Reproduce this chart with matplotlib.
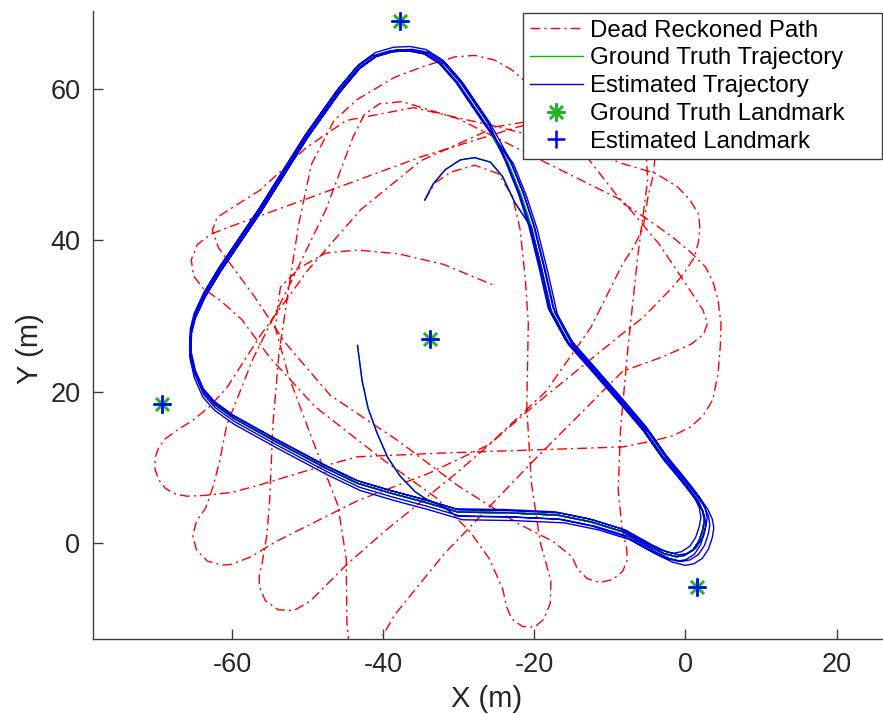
import numpy as np
import matplotlib.pyplot as plt

plt.rcParams['font.family'] = ['Liberation Sans', 'DejaVu Sans']
plt.rcParams['axes.unicode_minus'] = False

# ground truth loop, one lap clockwise, starting on the right side (m)
gt_x = [-23.5, -21.8, -20.4, -19.0, -17.8, -15.5, -12.5, -8.3, -5.5, -3.0,
        -1.0, 0.6, 1.7, 2.3, 2.5, 2.3, 1.8, 1.0, -0.1, -1.2,
        -2.8, -4.7, -8.3, -12.5, -16.9, -23.5, -30.1, -34.5, -39.0, -43.4,
        -47.6, -54.2, -59.8, -62.3, -63.8, -64.9, -65.5, -65.4, -64.9, -63.6,
        -61.6, -56.3, -50.2, -46.0, -43.4, -41.2, -38.8, -36.6, -34.5, -32.3,
        -30.1, -26.5]
gt_y = [50.2, 46.0, 41.7, 36.0, 30.7, 26.5, 23.1, 18.3, 15.0, 11.4,
        9.0, 7.0, 5.5, 4.2, 3.0, 1.8, 0.3, -0.9, -1.6, -1.8,
        -1.4, -0.5, 1.5, 2.8, 3.7, 4.0, 4.1, 5.4, 6.6, 7.9,
        9.9, 13.4, 16.5, 18.3, 20.0, 22.5, 25.2, 28.0, 30.0, 32.8,
        36.1, 43.9, 53.6, 59.5, 62.6, 64.2, 64.9, 65.0, 64.6, 63.2,
        60.7, 55.4]
n_laps = 5

# start and end of the run
start_x = [-34.5, -33.4, -31.8, -29.8, -27.9, -25.8, -24.2, -22.6]
start_y = [45.3, 47.4, 49.3, 50.6, 50.9, 50.3, 48.4, 45.0]
end_x = [-32.4, -34.3, -35.8, -37.8, -39.4, -40.8, -42.0, -42.8, -43.2, -43.4]
end_y = [5.0, 5.8, 6.8, 8.9, 11.3, 14.5, 17.8, 21.5, 24.5, 26.1]

# estimated trajectory: drift of each lap from the truth
est_dx = [0.0, 0.4, -0.3, 0.6, 0.2, -0.2]
est_dy = [0.0, -0.3, 0.3, -0.5, 0.4, -0.2]
est_scale = [1.0, 1.01, 0.995, 1.02, 1.005, 1.012]

# dead reckoned path (m)
dr_pts = [
    (-34.5, 45.3), (-33.1, 47.6), (-31.0, 49.0), (-27.9, 49.9), (-24.8, 48.8),
    (-22.9, 45.8), (-21.9, 41.5), (-21.2, 35.0), (-20.8, 29.0),
    (-21.0, 18.0), (-20.4, 8.0), (-19.2, 0.0), (-17.8, -5.0),
    (-17.9, -8.0), (-18.8, -10.1), (-20.0, -11.1), (-21.6, -11.0), (-23.0, -10.0),
    (-23.7, -8.3), (-24.2, -6.0),
    (-26.0, -2.0), (-28.5, 1.5), (-33.0, 6.0), (-40.0, 11.0), (-49.0, 18.0),
    (-55.0, 24.5), (-58.7, 29.5),
    (-61.5, 32.0), (-63.8, 33.6), (-65.1, 35.3), (-65.4, 37.4), (-64.6, 39.4),
    (-62.8, 40.8), (-60.5, 41.7),
    (-50.0, 45.5), (-35.0, 51.0), (-22.0, 55.0),
    (-15.0, 56.5), (-10.5, 56.3), (-7.0, 54.5), (-5.2, 51.5), (-5.0, 48.0),
    (-6.3, 38.0), (-7.6, 26.0), (-8.6, 15.0), (-8.9, 7.0), (-8.4, 2.0),
    (-7.8, -0.6), (-7.7, -2.2), (-8.3, -3.7), (-9.6, -4.8), (-11.3, -5.2),
    (-13.0, -4.7), (-14.3, -3.4), (-15.0, -1.8),
    (-17.5, 0.2), (-22.0, 2.5), (-30.0, 7.5), (-38.0, 13.5), (-47.0, 19.5),
    (-53.0, 26.5), (-57.0, 32.5),
    (-59.8, 36.3), (-61.8, 39.0), (-62.6, 41.3), (-62.0, 43.0), (-59.8, 44.4),
    (-56.3, 46.6), (-50.2, 52.2), (-44.9, 55.8),
    (-36.0, 57.5), (-25.0, 55.0), (-15.0, 52.5), (-8.3, 50.1), (-3.9, 48.8),
    (-1.0, 47.0), (0.6, 45.3), (1.7, 43.5), (1.9, 41.7), (1.7, 39.7),
    (1.2, 37.8), (-0.2, 35.6), (-1.7, 33.8), (-5.6, 29.8), (-8.3, 27.7),
    (-20.0, 18.2), (-30.0, 9.5), (-40.0, 1.4), (-44.9, -2.9), (-47.5, -5.5),
    (-49.6, -7.6), (-51.8, -8.9), (-53.9, -8.8), (-55.6, -7.6), (-56.4, -5.7),
    (-56.4, -4.3), (-56.0, -2.5), (-55.4, 1.0), (-55.0, 6.0),
    (-54.6, 15.6), (-53.8, 25.0), (-52.6, 33.0), (-51.2, 42.0), (-49.5, 50.0),
    (-46.5, 55.8), (-43.4, 58.6),
    (-38.5, 61.5), (-34.5, 63.0), (-30.5, 64.2), (-27.9, 64.4), (-25.3, 63.8),
    (-23.0, 62.5), (-21.0, 60.8),
    (-15.0, 53.5), (-8.3, 44.9), (-4.8, 42.6), (-1.7, 40.4), (0.8, 38.3),
    (2.7, 36.4), (3.7, 34.3), (4.3, 32.1), (4.7, 29.0), (4.6, 25.9),
    (4.3, 22.3), (3.6, 18.9), (2.3, 16.8), (0.6, 15.3), (-1.6, 14.2),
    (-3.9, 13.6), (-8.3, 12.7),
    (-20.0, 12.3), (-32.0, 11.9), (-43.4, 11.4), (-50.0, 9.6), (-56.3, 7.7),
    (-60.0, 6.7), (-63.5, 6.3), (-66.0, 6.2), (-67.5, 6.5), (-68.8, 7.2),
    (-69.7, 8.35), (-70.2, 9.75), (-70.2, 11.25), (-69.7, 12.65), (-68.8, 13.8),
    (-67.3, 14.9), (-65.2, 16.2), (-63.0, 18.0), (-60.7, 20.5), (-56.2, 27.5),
    (-50.0, 36.0), (-43.0, 44.0), (-35.0, 50.5), (-25.0, 55.0), (-15.0, 56.6),
    (-10.5, 56.6), (-7.3, 55.4), (-5.0, 53.5), (-4.0, 51.1), (-4.3, 48.5),
    (-5.0, 45.5), (-5.6, 41.7), (-6.8, 39.2), (-8.3, 36.9),
    (-12.5, 28.5), (-18.5, 20.0), (-26.0, 13.0), (-34.0, 9.2), (-43.4, 5.6),
    (-49.0, 2.8), (-54.2, 0.2), (-57.5, -1.8), (-60.0, -2.8), (-61.3, -2.9),
    (-63.25, -2.38), (-64.7, -0.95), (-65.2, 1.0), (-64.7, 2.95), (-63.5, 4.6),
    (-62.5, 7.5), (-61.6, 11.0), (-60.7, 15.6), (-57.2, 24.4),
    (-51.9, 35.1), (-47.6, 44.0), (-44.0, 53.6),
    (-42.5, 56.6), (-40.5, 58.0), (-37.5, 58.3), (-30.0, 56.0), (-20.0, 51.0),
    (-8.3, 45.2),
    (-3.5, 39.5), (0.2, 34.0), (2.3, 30.8), (2.9, 29.0), (2.4, 27.6),
    (0.8, 26.3), (-3.0, 24.6), (-8.3, 22.7),
    (-20.0, 11.0), (-32.0, -1.5), (-38.5, -9.5), (-40.5, -13.0), (-42.5, -14.8),
    (-44.5, -13.5), (-44.8, -10.5),
    (-44.9, -2.0), (-46.0, 5.0), (-49.5, 14.0), (-52.5, 22.0), (-54.3, 28.5),
    (-53.6, 33.8), (-51.0, 36.4), (-47.6, 38.3), (-43.4, 38.7), (-38.0, 38.2),
    (-32.0, 36.8), (-25.5, 34.1),
]

# landmarks
lm_x = [-37.8, -33.8, -69.3, 1.5]
lm_y = [69.0, 27.0, 18.4, -5.8]
lm_est_x = [-37.8, -33.8, -69.3, 1.5]
lm_est_y = [69.0, 27.0, 18.4, -5.8]


def main():
    loop = np.column_stack([gt_x, gt_y])
    cut = 27  # last lap ends on the bottom leg

    laps = [loop[2:]] + [loop] * (n_laps - 1) + [loop[:cut]]
    centre = np.array([-30.0, 30.0])
    gt_parts = [np.column_stack([start_x, start_y])]
    est_parts = [np.column_stack([start_x, start_y])]
    for i, lap in enumerate(laps):
        gt_parts.append(lap)
        est_parts.append(centre + (lap - centre) * est_scale[i] + [est_dx[i], est_dy[i]])
    gt_parts.append(np.column_stack([end_x, end_y]))
    est_parts.append(np.column_stack([end_x, end_y]))
    gt = np.vstack(gt_parts)
    est = np.vstack(est_parts)
    dr = np.array(dr_pts)

    fig = plt.figure(figsize=(8.83, 7.14), dpi=100)
    ax = fig.add_axes([93 / 883, 74.7 / 714, 792 / 883, 628.6 / 714])

    dash = (0, (7, 3, 1.5, 3))
    ax.plot(dr[:, 0], dr[:, 1], color='r', lw=1.0, linestyle=dash, label='Dead Reckoned Path')
    ax.plot(gt[:, 0], gt[:, 1], color='#00c000', lw=1.0, label='Ground Truth Trajectory')
    ax.plot(est[:, 0], est[:, 1], color='#0000e0', lw=1.0, label='Estimated Trajectory')
    ax.plot(lm_x, lm_y, linestyle='none', marker=(8, 2, 0), markersize=13,
            mew=1.8, color='#22b422', label='Ground Truth Landmark')
    ax.plot(lm_est_x, lm_est_y, linestyle='none', marker='+', markersize=13,
            mew=1.8, color='#0000ff', label='Estimated Landmark')

    ax.set_xlim(-78.4, 26.4)
    ax.set_ylim(-12.7, 70.3)
    ax.set_xticks([-60, -40, -20, 0, 20])
    ax.set_yticks([0, 20, 40, 60])
    for s in ['top', 'right']:
        ax.spines[s].set_visible(False)
    for s in ['left', 'bottom']:
        ax.spines[s].set_color('#404040')
        ax.spines[s].set_linewidth(1.0)
    ax.tick_params(direction='in', length=7, width=1.0, color='#404040',
                   labelsize=19.5, labelcolor='#262626', pad=9)

    ax.set_xlabel('X (m)', fontsize=21, color='#262626')
    ax.set_ylabel('Y (m)', fontsize=21, color='#262626')
    ax.xaxis.set_label_coords(0.497, -0.072)
    ax.yaxis.set_label_coords(-0.062, 0.463)

    leg = ax.legend(loc='upper left', bbox_to_anchor=(0.543, 0.0, 0.4533, 0.9965),
                    mode='expand', fontsize=17.3, frameon=True, fancybox=False,
                    framealpha=1, edgecolor='#404040', handlelength=2.2,
                    handletextpad=0.3, labelspacing=0.24, borderpad=0.28,
                    borderaxespad=0)
    leg.get_frame().set_linewidth(1.0)

    fig.savefig('out.png', dpi=100)


if __name__ == "__main__":
    main()
